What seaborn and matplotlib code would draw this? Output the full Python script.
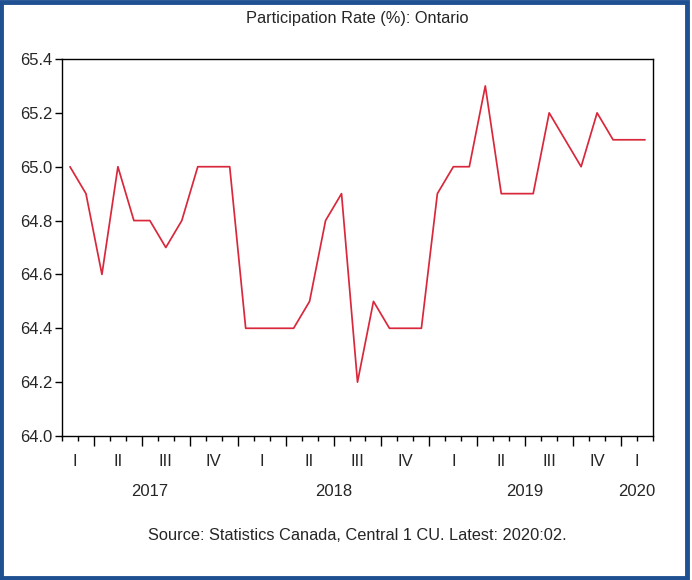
import matplotlib
matplotlib.use("Agg")
import matplotlib.pyplot as plt
import matplotlib.patches as mpatches
from matplotlib.transforms import blended_transform_factory
import seaborn as sns
import pandas as pd
import numpy as np

# ---- data (monthly, Feb 2017 .. Feb 2020) ----
start_period = "2017-02"
end_period = "2020-02"
rate = [65.0, 64.9, 64.6, 65.0, 64.8, 64.8, 64.7, 64.8, 65.0, 65.0, 65.0,
        64.4, 64.4, 64.4, 64.4, 64.5, 64.8, 64.9, 64.2, 64.5, 64.4, 64.4,
        64.4, 64.9, 65.0, 65.0, 65.3, 64.9, 64.9, 64.9, 65.2, 65.1, 65.0,
        65.2, 65.1, 65.1, 65.1]
quarter_names = ["I", "II", "III", "IV"]
years = [2017, 2018, 2019, 2020]
y_ticks = [64.0, 64.2, 64.4, 64.6, 64.8, 65.0, 65.2, 65.4]
title = "Participation Rate (%): Ontario"
source = "Source: Statistics Canada, Central 1 CU. Latest: 2020:02."

periods = pd.period_range(start_period, end_period, freq="M")
base_year = years[0]
xpos = [(p.year - base_year) * 12 + p.month - 1 for p in periods]
df = pd.DataFrame({"x": xpos, "rate": rate})

sns.set_style("ticks")
plt.rcParams["font.family"] = ["Liberation Sans", "DejaVu Sans"]

fig = plt.figure(figsize=(6.92, 5.80), dpi=100)
ax = fig.add_axes([62 / 692, (580 - 436) / 580, (653 - 62) / 692, (436 - 59) / 580])

sns.lineplot(data=df, x="x", y="rate", ax=ax, color="#D9283C", linewidth=1.25)

xmin, xmax = xpos[0] - 0.5, xpos[-1] + 0.5
ax.set_xlim(xmin, xmax)
ax.set_ylim(64.0, 65.4)
ax.set_yticks(y_ticks)
ax.set_yticklabels([f"{v:.1f}" for v in y_ticks], fontsize=12)
ax.set_xlabel("")
ax.set_ylabel("")

# month boundaries (minor) and quarter boundaries (major)
month_b = np.arange(xmin, xmax + 0.01, 1.0)
quarter_b = [b for b in month_b if int(round(b + 0.5)) % 3 == 0]
ax.set_xticks(quarter_b)
ax.set_xticklabels([])
ax.set_xticks(month_b, minor=True)
ax.tick_params(axis="x", which="major", length=7, width=1, direction="out", color="black")
ax.tick_params(axis="x", which="minor", length=3.5, width=1, direction="out", color="black")
ax.tick_params(axis="y", length=5, width=1, direction="out", color="black", pad=2)

for s in ax.spines.values():
    s.set_visible(True)
    s.set_color("black")
    s.set_linewidth(1.0)

trans = blended_transform_factory(ax.transData, ax.transAxes)
ax_h_px = 436 - 59

# quarter labels
for yr in years:
    for q in range(4):
        a = (yr - base_year) * 12 + q * 3 - 0.5
        b = a + 3
        lo, hi = max(a, xmin), min(b, xmax)
        if hi - lo <= 0.5:
            continue
        cx = (lo + hi) / 2 if hi - lo < 3 else (lo + hi) / 2
        if hi - lo < 3 and lo == xmin:
            cx -= 0.2
        ax.text(cx, -26 / ax_h_px, quarter_names[q], transform=trans,
                ha="center", va="center", fontsize=12)
    a = (yr - base_year) * 12 - 0.5
    b = a + 12
    lo, hi = max(a, xmin), min(b, xmax)
    if hi - lo > 0.5:
        ax.text((lo + hi) / 2, -56 / ax_h_px, str(yr), transform=trans,
                ha="center", va="center", fontsize=12)

fig.text(357 / 692, 1 - 18 / 580, title, ha="center", va="center", fontsize=11.8)
fig.text(357 / 692, 1 - 536 / 580, source, ha="center", va="center", fontsize=11.8)

# blue frame around the figure
frame = mpatches.Rectangle((0.002, 0.004), 0.991, 0.993, transform=fig.transFigure,
                           fill=False, edgecolor="#1F5091", linewidth=3.5)
fig.patches.append(frame)

fig.savefig("out.png", dpi=100)
